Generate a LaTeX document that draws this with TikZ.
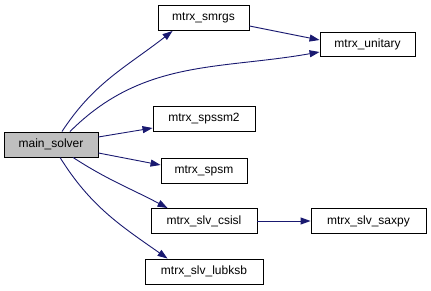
\documentclass[tikz,border=0pt]{standalone}
\usepackage{fontspec}
\setmainfont{Liberation Sans}
\usepackage{tikz}
\usetikzlibrary{arrows.meta, positioning}

\definecolor{edgeblue}{RGB}{25,25,112}
\definecolor{maingray}{RGB}{191,191,191}

\begin{document}
\begin{tikzpicture}[x=1pt, y=1pt,
    fn/.style={draw=black, line width=0.9pt, fill=white, inner sep=0pt, minimum height=25pt, font=\fontsize{12}{14}\selectfont},
    call/.style={draw=edgeblue, line width=0.9pt, -{Triangle[length=10pt, width=7pt]}}]

            % Khung hình
            \useasboundingbox (0,0) rectangle (431,-291);

            % Hàm chính
            \node[fn, fill=maingray, minimum width=94pt] (main) at (51,-144.5) {main\_solver};

            % Các hàm được gọi
            \node[fn, minimum width=91pt] (smrgs) at (203.5,-18) {mtrx\_smrgs};
            \node[fn, minimum width=95pt, minimum height=24pt] (unitary) at (367.5,-44) {mtrx\_unitary};
            \node[fn, minimum width=102pt] (spssm2) at (204,-119) {mtrx\_spssm2};
            \node[fn, minimum width=86pt] (spsm) at (204,-170.5) {mtrx\_spsm};
            \node[fn, minimum width=106pt] (csisl) at (204,-221) {mtrx\_slv\_csisl};
            \node[fn, minimum width=115pt] (saxpy) at (368.5,-221) {mtrx\_slv\_saxpy};
            \node[fn, minimum width=118pt] (lubksb) at (204,-271.5) {mtrx\_slv\_lubksb};

            % Các cạnh gọi hàm
            \draw[call] ([xshift=11pt]main.north) to[out=57, in=218] ([xshift=15pt]smrgs.south west); % main -> smrgs
            \draw[call] ([xshift=19pt]main.north) to[out=45, in=190] ([yshift=-8pt]unitary.west);   % main -> unitary
            \draw[call] ([yshift=7.5pt]main.east) -- ([yshift=-9pt]spssm2.west);                     % main -> spssm2
            \draw[call] ([yshift=-8.5pt]main.east) -- ([yshift=5.5pt]spsm.west);                     % main -> spsm
            \draw[call] ([xshift=22pt]main.south) to[out=-33, in=152] ([xshift=17pt]csisl.north west); % main -> csisl
            \draw[call] ([xshift=9pt]main.south) to[out=-58, in=145] ([xshift=23pt]lubksb.north west); % main -> lubksb
            \draw[call] ([yshift=-8pt]smrgs.east) -- ([yshift=4pt]unitary.west);                      % smrgs -> unitary
            \draw[call] (csisl.east) -- (saxpy.west);                                                 % csisl -> saxpy

            \end{tikzpicture}
\end{document}
